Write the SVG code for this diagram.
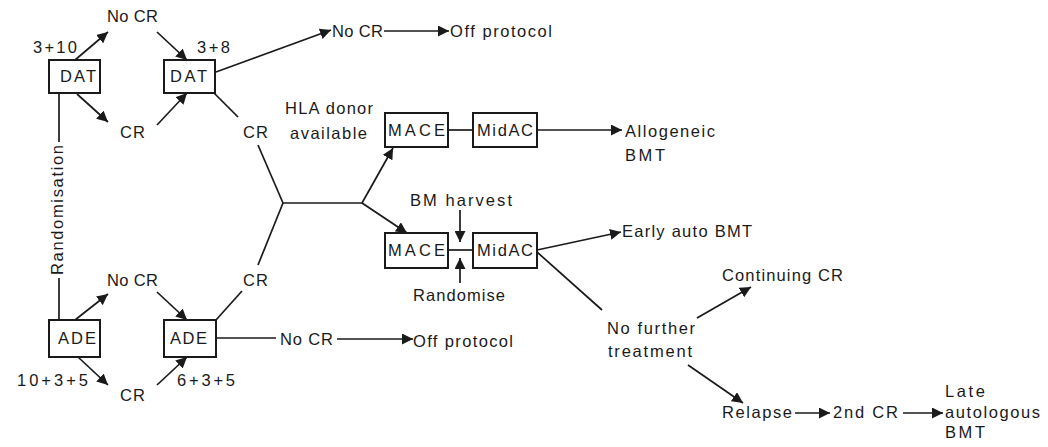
<svg xmlns="http://www.w3.org/2000/svg" width="1048" height="447" viewBox="0 0 1048 447">
<style>
text{font-family:"Liberation Sans",Arial,sans-serif;font-size:16.5px;fill:#1a1a1a}
.box{fill:#fff;stroke:#1a1a1a;stroke-width:2}
.ln{fill:none;stroke:#1a1a1a;stroke-width:1.7}
.ar{marker-end:url(#ah)}
</style>
<defs>
<marker id="ah" markerUnits="userSpaceOnUse" markerWidth="12" markerHeight="11" refX="11" refY="5.5" orient="auto">
<path d="M0,0 L11,5.5 L0,11 z" fill="#1a1a1a"/>
</marker>
</defs>
<rect width="1048" height="447" fill="#fff"/>
<g id="connectors">
<line class="ln ar" x1="75" y1="60" x2="108" y2="32"/>
<line class="ln ar" x1="157" y1="32" x2="187" y2="60"/>
<line class="ln ar" x1="77" y1="94" x2="108" y2="122"/>
<line class="ln ar" x1="157" y1="125" x2="187" y2="93"/>
<line class="ln ar" x1="216" y1="72" x2="331" y2="30"/>
<line class="ln" x1="214" y1="93" x2="238" y2="117"/>
<line class="ln" x1="258" y1="145" x2="283" y2="203"/>
<line class="ln" x1="283" y1="203" x2="258" y2="265"/>
<line class="ln" x1="283" y1="203" x2="362" y2="203"/>
<line class="ln ar" x1="362" y1="203" x2="393" y2="148"/>
<line class="ln ar" x1="362" y1="203" x2="407" y2="233"/>
<line class="ln ar" x1="384" y1="31" x2="449" y2="31"/>
<line class="ln" x1="448" y1="130" x2="473" y2="130"/>
<line class="ln ar" x1="537" y1="130" x2="622" y2="130"/>
<line class="ln ar" x1="460" y1="210" x2="460" y2="242"/>
<line class="ln ar" x1="460" y1="283" x2="460" y2="258"/>
<line class="ln" x1="448" y1="250" x2="473" y2="250"/>
<line class="ln ar" x1="537" y1="250" x2="621" y2="232"/>
<line class="ln" x1="537" y1="252" x2="602" y2="310"/>
<line class="ln ar" x1="697" y1="318" x2="751" y2="287"/>
<line class="ln ar" x1="688" y1="365" x2="743" y2="403"/>
<line class="ln ar" x1="795" y1="413" x2="830" y2="413"/>
<line class="ln ar" x1="903" y1="413" x2="943" y2="413"/>
<line class="ln" x1="242" y1="291" x2="216" y2="320"/>
<line class="ln ar" x1="75" y1="320" x2="108" y2="294"/>
<line class="ln ar" x1="157" y1="292" x2="187" y2="320"/>
<line class="ln ar" x1="78" y1="357" x2="108" y2="385"/>
<line class="ln ar" x1="157" y1="385" x2="187" y2="357"/>
<line class="ln" x1="216" y1="338" x2="276" y2="338"/>
<line class="ln ar" x1="337" y1="339" x2="413" y2="339"/>
<line class="ln" x1="59" y1="92" x2="59" y2="142"/>
<line class="ln" x1="59" y1="278" x2="59" y2="320"/>
</g>
<g id="dat1"><rect class="box" x="49" y="60" width="51" height="33"/><text x="60" y="82" textLength="36">DAT</text></g>
<g id="dat2"><rect class="box" x="164" y="60" width="51" height="33"/><text x="170" y="82" textLength="37">DAT</text></g>
<g id="ade1"><rect class="box" x="49" y="320" width="51" height="37"/><text x="58" y="344" textLength="38">ADE</text></g>
<g id="ade2"><rect class="box" x="164" y="320" width="52" height="37"/><text x="170" y="344" textLength="37">ADE</text></g>
<g id="mace1"><rect class="box" x="385" y="113" width="63" height="34"/><text x="388" y="136" textLength="57">MACE</text></g>
<g id="midac1"><rect class="box" x="473" y="113" width="64" height="34"/><text x="477" y="136" textLength="56">MidAC</text></g>
<g id="mace2"><rect class="box" x="385" y="233" width="63" height="35"/><text x="388" y="256" textLength="57">MACE</text></g>
<g id="midac2"><rect class="box" x="473" y="233" width="64" height="35"/><text x="477" y="256" textLength="56">MidAC</text></g>
<g id="randomisation"><text transform="translate(63,210) rotate(-90)" text-anchor="middle" textLength="130">Randomisation</text></g>
<g id="dose-labels">
<text x="33" y="53" textLength="44">3+10</text>
<text x="197" y="53" textLength="33">3+8</text>
<text x="17" y="386" textLength="71">10+3+5</text>
<text x="177" y="386" textLength="58">6+3+5</text>
</g>
<g id="nocr-dat1"><text x="107" y="22" textLength="51">No CR</text></g>
<g id="cr-dat1"><text x="120" y="138" textLength="25">CR</text></g>
<g id="cr-dat2"><text x="243" y="138" textLength="25">CR</text></g>
<g id="nocr-dat2"><text x="332" y="37" textLength="51">No CR</text></g>
<g id="off1"><text x="450" y="37" textLength="102">Off protocol</text></g>
<g id="hla"><text x="285" y="114" textLength="88">HLA donor</text><text x="290" y="139" textLength="77">available</text></g>
<g id="allo"><text x="625" y="137" textLength="90">Allogeneic</text><text x="625" y="161" textLength="40">BMT</text></g>
<g id="bmharvest"><text x="410" y="206" textLength="102">BM harvest</text></g>
<g id="randomise"><text x="413" y="301" textLength="92">Randomise</text></g>
<g id="early"><text x="622" y="237" textLength="130">Early auto BMT</text></g>
<g id="contcr"><text x="722" y="281" textLength="121">Continuing CR</text></g>
<g id="nocr-ade1"><text x="107" y="286" textLength="51">No CR</text></g>
<g id="cr-ade2"><text x="243" y="286" textLength="25">CR</text></g>
<g id="nocr-ade2"><text x="280" y="345" textLength="53">No CR</text></g>
<g id="off2"><text x="413" y="347" textLength="100">Off protocol</text></g>
<g id="cr-ade1"><text x="120" y="401" textLength="25">CR</text></g>
<g id="nofurther"><text x="607" y="334" textLength="88">No further</text><text x="608" y="357" textLength="84">treatment</text></g>
<g id="relapse"><text x="722" y="418" textLength="70">Relapse</text></g>
<g id="cr2"><text x="833" y="418" textLength="65">2nd CR</text></g>
<g id="late"><text x="945" y="397" textLength="40">Late</text><text x="945" y="418" textLength="95">autologous</text><text x="945" y="438" textLength="40">BMT</text></g>
</svg>
